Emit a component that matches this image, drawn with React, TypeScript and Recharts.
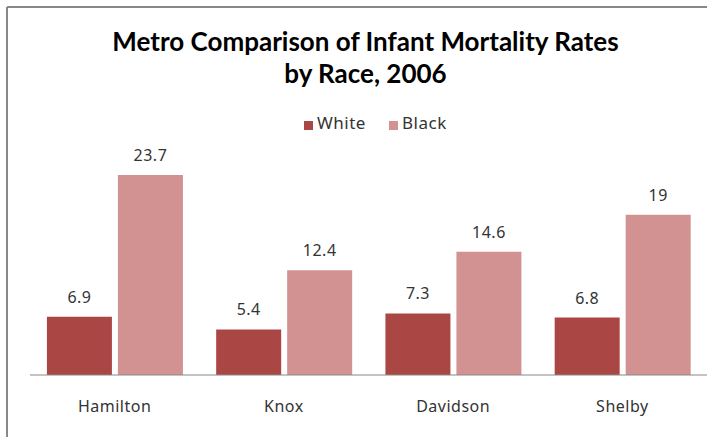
import React from "react";
import { BarChart, Bar, XAxis, YAxis, LabelList } from "recharts";

const categories = ["Hamilton", "Knox", "Davidson", "Shelby"];
const whiteRates = [6.9, 5.4, 7.3, 6.8];
const blackRates = [23.7, 12.4, 14.6, 19];
const seriesNames = ["White", "Black"];
const seriesColors = ["#AA4644", "#D19291"];
const titleLines = [
  "Metro Comparison of Infant Mortality Rates",
  "by Race, 2006",
];

const data = categories.map((name, i) => ({
  name,
  White: whiteRates[i],
  Black: blackRates[i],
}));

const textColor = "#333333";
const bodyFont = "'Noto Sans', sans-serif";

const App = () => {
  return (
    <div
      style={{
        position: "absolute",
        top: 0,
        left: 0,
        width: 707,
        height: 437,
        background: "#fff",
      }}
    >
      <BarChart
        width={707}
        height={437}
        data={data}
        margin={{ top: 164, right: 0, left: 30, bottom: 22 }}
        barCategoryGap="10%"
        barGap={6}
      >
        <XAxis
          dataKey="name"
          height={40}
          tickLine={false}
          tickSize={0}
          tickMargin={26}
          axisLine={{ stroke: "#888888" }}
          tick={{
            fontSize: 16,
            fill: textColor,
            fontFamily: bodyFont,
            letterSpacing: 0.5,
          }}
        />
        <YAxis hide domain={[0, 25]} />
        {seriesNames.map((s, i) => (
          <Bar
            key={s}
            dataKey={s}
            fill={seriesColors[i]}
            isAnimationActive={false}
          >
            <LabelList
              dataKey={s}
              position="top"
              offset={14}
              style={{
                fontSize: 16,
                fill: textColor,
                fontFamily: bodyFont,
                letterSpacing: 0.5,
              }}
            />
          </Bar>
        ))}
      </BarChart>

      {/* title, legend and the frame */}
      <svg
        width={707}
        height={437}
        style={{ position: "absolute", top: 0, left: 0, pointerEvents: "none" }}
      >
        <line x1={7} y1={7} x2={707} y2={7} stroke="#888" strokeWidth={2} />
        <line x1={7} y1={7} x2={7} y2={437} stroke="#888" strokeWidth={2} />
        {titleLines.map((t, i) => (
          <text
            key={t}
            x={365.5}
            y={51 + i * 32}
            textAnchor="middle"
            fontFamily="Lato, sans-serif"
            fontWeight="bold"
            fontSize={26}
            fill="#000"
          >
            {t}
          </text>
        ))}
        {seriesNames.map((s, i) => {
          const x = i === 0 ? 304 : 389;
          return (
            <g key={s}>
              <rect x={x} y={121} width={9} height={9} fill={seriesColors[i]} />
              <text
                x={x + 13}
                y={129}
                fontFamily={bodyFont}
                fontSize={17}
                letterSpacing={0.5}
                fill={textColor}
              >
                {s}
              </text>
            </g>
          );
        })}
      </svg>
    </div>
  );
};

export default App;
